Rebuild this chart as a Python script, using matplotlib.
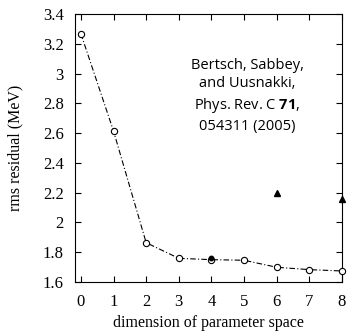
import matplotlib
matplotlib.use("Agg")
import matplotlib.pyplot as plt

plt.rcParams["mathtext.fontset"] = "custom"
plt.rcParams["mathtext.bf"] = "Open Sans:bold"
plt.rcParams["mathtext.rm"] = "Open Sans"

dims = [0, 1, 2, 3, 4, 5, 6, 7, 8]
rms = [3.268, 2.614, 1.864, 1.759, 1.750, 1.746, 1.699, 1.683, 1.674]
tri_x = [6, 8]
tri_y = [2.20, 2.155]
dot_x = [4]
dot_y = [1.758]
xticks = [0, 1, 2, 3, 4, 5, 6, 7, 8]
yticks = [1.6, 1.8, 2.0, 2.2, 2.4, 2.6, 2.8, 3.0, 3.2, 3.4]
ytick_labels = ["1.6", "1.8", "2", "2.2", "2.4", "2.6", "2.8", "3", "3.2", "3.4"]

fig = plt.figure(figsize=(3.49, 3.32), dpi=100)
ax = fig.add_axes([75/349, 1-282/332, (342-75)/349, (282-14)/332])

ax.plot(dims, rms, color="black", lw=0.8, linestyle=(0, (5, 2, 1, 2)),
        marker="o", markersize=4.5, markerfacecolor="white",
        markeredgecolor="black", markeredgewidth=0.8, zorder=3, clip_on=False)
ax.plot(dot_x, dot_y, marker="o", markersize=3.2, color="black",
        linestyle="none", zorder=4, clip_on=False)
ax.plot(tri_x, tri_y, marker="^", markersize=4, color="black",
        linestyle="none", zorder=4, clip_on=False)

ax.set_xlim(-0.18, 8.0)
ax.set_ylim(1.6, 3.4)
ax.set_xticks(xticks)
ax.set_yticks(yticks)
ax.set_yticklabels(ytick_labels)
ax.tick_params(direction="in", top=True, right=True, length=4, width=0.8,
               labelsize=12)
ax.tick_params(axis="y", pad=8)
ax.tick_params(axis="x", pad=9)
for lbl in ax.get_xticklabels() + ax.get_yticklabels():
    lbl.set_fontfamily("Liberation Serif")
for s in ax.spines.values():
    s.set_linewidth(0.8)

ax.set_xlabel("dimension of parameter space", fontfamily="Liberation Serif",
              fontsize=11.5, labelpad=3)
ax.set_ylabel("rms residual (MeV)", fontfamily="Liberation Serif",
              fontsize=11.5, labelpad=14)

ax.text(0.645, 0.695, "Bertsch, Sabbey,\nand Uusnakki,\nPhys. Rev. C $\\mathbf{71}$,\n054311 (2005)",
        transform=ax.transAxes, ha="center", va="center",
        fontsize=10.5, family="Open Sans", linespacing=1.35)

fig.savefig("out.png", dpi=100)
